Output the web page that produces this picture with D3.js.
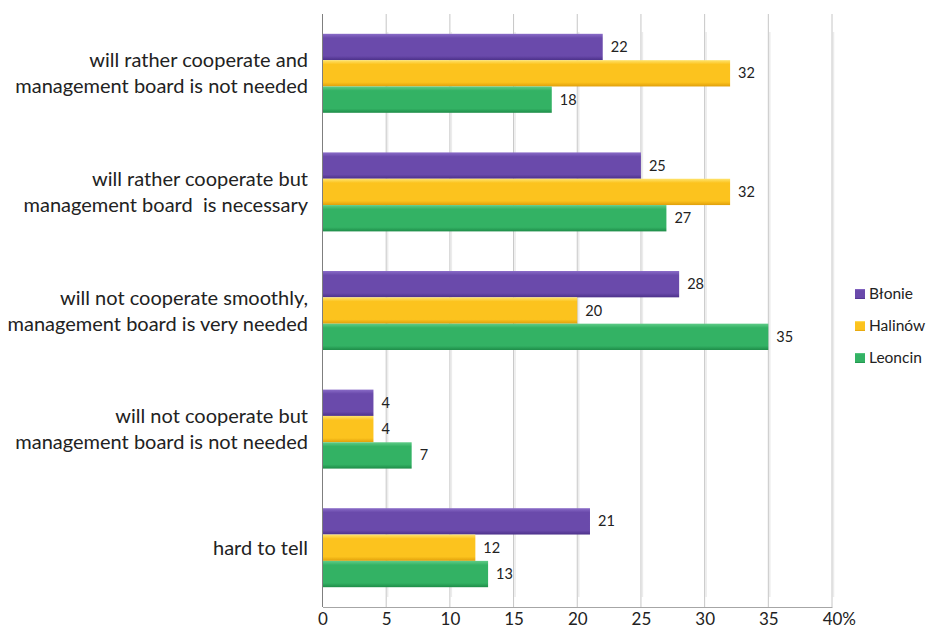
<!DOCTYPE html>
<html>
<head>
<meta charset="utf-8">
<script src="https://cdn.jsdelivr.net/npm/d3@7"></script>
<style>
  html, body { margin: 0; padding: 0; background: #ffffff; }
  svg { display: block; }
  text { font-family: Lato, "Open Sans", "DejaVu Sans", sans-serif; fill: #222; }
</style>
</head>
<body>
<svg id="chart" width="928" height="629"></svg>
<script>
// Answers per municipality, percent of respondents
const categories = [
  ["will rather cooperate and", "management board is not needed"],
  ["will rather cooperate but", "management board  is necessary"],
  ["will not cooperate smoothly,", "management board is very needed"],
  ["will not cooperate but", "management board is not needed"],
  ["hard to tell"]
];
const seriesNames = ["Błonie", "Halinów", "Leoncin"];
const blonie  = [22, 25, 28, 4, 21];
const halinow = [32, 32, 20, 4, 12];
const leoncin = [18, 27, 35, 7, 13];
const tickValues = [0, 5, 10, 15, 20, 25, 30, 35, 40];

const seriesValues = [blonie, halinow, leoncin];
const palette = {
  "Błonie":  { top: "#8a6cc8", mid: "#6a4aab", bot: "#4c318a" },
  "Halinów": { top: "#ffe46e", mid: "#fcc31e", bot: "#e09f0a" },
  "Leoncin": { top: "#60cc88", mid: "#33b264", bot: "#1e8c48" }
};

const svg = d3.select("#chart");
const plotLeft = 322.5, plotRight = 832, plotTop = 14, plotBottom = 607;

const x = d3.scaleLinear().domain([0, 40]).range([plotLeft, plotRight]);
const y0 = d3.scaleBand().domain(d3.range(categories.length))
  .range([plotTop, plotBottom]).paddingInner(0.334).paddingOuter(0.167);
const y1 = d3.scaleBand().domain(seriesNames).range([0, y0.bandwidth()]);

// bar gradients
const defs = svg.append("defs");
seriesNames.forEach((s, i) => {
  const g = defs.append("linearGradient").attr("id", "grad" + i)
    .attr("x1", 0).attr("y1", 0).attr("x2", 0).attr("y2", 1);
  g.append("stop").attr("offset", "0%").attr("stop-color", palette[s].top);
  g.append("stop").attr("offset", "16%").attr("stop-color", palette[s].mid);
  g.append("stop").attr("offset", "84%").attr("stop-color", palette[s].mid);
  g.append("stop").attr("offset", "100%").attr("stop-color", palette[s].bot);
});

// vertical gridlines
const grid = svg.append("g");
grid.selectAll("line.shade").data(tickValues.slice(1)).join("line")
  .attr("class", "shade")
  .attr("x1", d => x(d) + 1.5).attr("x2", d => x(d) + 1.5)
  .attr("y1", plotTop + 18).attr("y2", plotBottom - 10)
  .attr("stroke", "#ececec").attr("stroke-width", 1.5);
grid.selectAll("line.main").data(tickValues.slice(1)).join("line")
  .attr("class", "main")
  .attr("x1", d => x(d)).attr("x2", d => x(d))
  .attr("y1", plotTop).attr("y2", plotBottom)
  .attr("stroke", "#c6c6c6").attr("stroke-width", 1);

// bars
const rows = categories.map((c, i) => seriesNames.map((s, k) => ({ s, k, v: seriesValues[k][i] })));
const groups = svg.append("g").selectAll("g").data(rows).join("g")
  .attr("transform", (d, i) => `translate(0,${y0(i)})`);
groups.selectAll("rect").data(d => d).join("rect")
  .attr("x", x(0))
  .attr("y", d => y1(d.s))
  .attr("width", d => x(d.v) - x(0))
  .attr("height", y1.bandwidth())
  .attr("fill", d => `url(#grad${d.k})`);

// value labels
groups.selectAll("text").data(d => d).join("text")
  .attr("x", d => x(d.v) + 8)
  .attr("y", d => y1(d.s) + y1.bandwidth() / 2)
  .attr("dy", "0.35em")
  .style("font-size", "14.5px")
  .text(d => d.v);

// category labels
const catG = svg.append("g");
categories.forEach((lines, i) => {
  const cy = y0(i) + y0.bandwidth() / 2;
  const lh = 26;
  const t = catG.append("text")
    .attr("text-anchor", "end")
    .style("font-size", "20px")
    .style("white-space", "pre");
  lines.forEach((ln, j) => {
    t.append("tspan").attr("x", 308)
      .attr("y", cy + (j - (lines.length - 1) / 2) * lh)
      .attr("dy", "0.35em")
      .text(ln);
  });
});

// left axis line
svg.append("line").attr("x1", plotLeft).attr("x2", plotLeft).attr("y1", plotTop).attr("y2", plotBottom)
  .attr("stroke", "#7f7f7f").attr("stroke-width", 1);

// bottom axis
const axis = svg.append("g").attr("transform", `translate(0,${plotBottom})`)
  .call(d3.axisBottom(x).tickValues(tickValues).tickSize(0).tickPadding(9));
axis.select(".domain").attr("stroke", "#a6a6a6");
axis.selectAll("text").style("font-size", "17px").style("font-family", null)
  .attr("fill", "#222").attr("y", 18).attr("dy", 0);
// last tick carries the unit; keep the number centred on its tick
axis.selectAll(".tick").filter(d => d === 40).select("text").each(function () {
  const num = this.getComputedTextLength();
  d3.select(this).attr("text-anchor", "start").attr("x", -num / 2)
    .append("tspan").text("%");
});

// legend
const legend = svg.append("g");
seriesNames.forEach((s, k) => {
  const cy = 294 + k * 32;
  legend.append("rect").attr("x", 855).attr("y", cy - 5).attr("width", 10).attr("height", 10)
    .attr("fill", `url(#grad${k})`);
  legend.append("text").attr("x", 869).attr("y", cy).attr("dy", "0.35em")
    .style("font-size", "15.5px").text(s);
});
</script>
</body>
</html>
